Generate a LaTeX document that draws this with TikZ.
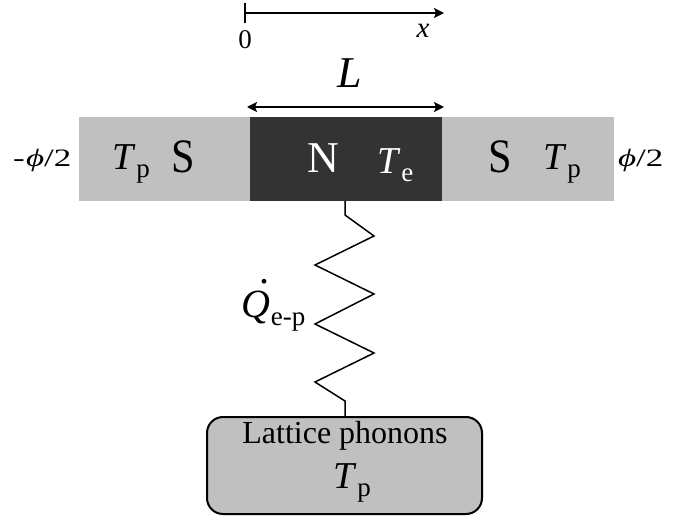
\documentclass[tikz,border=0pt]{standalone}
\usepackage{fontspec}
\setmainfont{Liberation Serif}
\usetikzlibrary{arrows.meta}
\definecolor{sgray}{HTML}{C0C0C0}
\definecolor{ndark}{HTML}{333333}
\tikzset{
  every node/.style={inner sep=0pt, outer sep=0pt},
  wire/.style={line width=1.5pt, black},
  tip/.tip={Stealth[length=10pt,width=10pt,inset=2pt]},
  arr/.style={line width=1.5pt, -tip},
  darr/.style={line width=1.5pt, tip-tip},
  lbl/.style={anchor=base west, font=\fontsize{38}{38}\selectfont},
  big/.style={anchor=base, font=\fontsize{48}{48}\selectfont},
  phase/.style={anchor=base west, font=\fontsize{25}{25}\selectfont},
}
\newcommand{\Tsub}[1]{\textit{T}\kern1pt\raisebox{-8pt}{\fontsize{27}{27}\selectfont #1}}
\begin{document}
\begin{tikzpicture}[x=1pt,y=-1pt]
\useasboundingbox (0,0) rectangle (696,521);
% axis
\coordinate (ax0) at (245,13);
\coordinate (ax1) at (444,13);
\coordinate (tk0) at (245,3);
\coordinate (tk1) at (245,23);
\draw[wire] (tk0) -- (tk1);
\draw[arr] (ax0) -- (ax1);
\node[anchor=base, font=\fontsize{27}{27}\selectfont] (zero) at (245,49) {0};
\node[anchor=base, font=\fontsize{29}{29}\selectfont\itshape] (xl) at (423,38) {x};
% L arrow
\coordinate (l0) at (247,107);
\coordinate (l1) at (444,107);
\draw[darr] (l0) -- (l1);
\node[anchor=base, font=\fontsize{44}{44}\selectfont\itshape] (L) at (350,88) {L};
% bar
\fill[sgray] (79,117) rectangle (250,201);
\fill[ndark] (250,117) rectangle (442,201);
\fill[sgray] (442,117) rectangle (614,201);
\node[lbl] (tpl) at (112,170) {\Tsub{p}};
\node[big] (sl) at (183,173) {\scalebox{0.88}[1]{S}};
\node[big, text=white, font=\fontsize{44}{44}\selectfont] (n) at (323,173) {N};
\node[lbl, text=white] (te) at (377,174) {\Tsub{e}};
\node[big] (sr) at (500,173) {\scalebox{0.88}[1]{S}};
\node[lbl] (tpr) at (543,170) {\Tsub{p}};
\node[phase] (phil) at (13,167) {\scalebox{1.4}[1]{-\kern1pt\textit{ϕ}/2}};
\node[phase] (phir) at (618,167) {\scalebox{1.4}[1]{\textit{ϕ}/2}};
% bottom box
\node[draw, line width=2pt, fill=sgray, rounded corners=16pt, minimum width=275pt, minimum height=97pt] (box) at (344.5,465.5) {};
\node[anchor=base, font=\fontsize{32}{32}\selectfont] (lp) at (345,443) {Lattice phonons};
\node[lbl] (tpb) at (333,488) {\Tsub{p}};
% resistor
\coordinate (rtop) at (345,201);
\draw[wire, line join=miter] (rtop) -- (345,215) -- (374,236) -- (315,265) -- (374,294) -- (315,324) -- (374,353) -- (315,382) -- (345,401) -- (box.north -| rtop);
\node[anchor=base west, font=\fontsize{40}{40}\selectfont] (q) at (241,317) {\rlap{\hspace{0.47em}\raisebox{0.85em}{.}}\textit{Q}\kern1pt\raisebox{-8pt}{\fontsize{27}{27}\selectfont e-p}};
\end{tikzpicture}
\end{document}
